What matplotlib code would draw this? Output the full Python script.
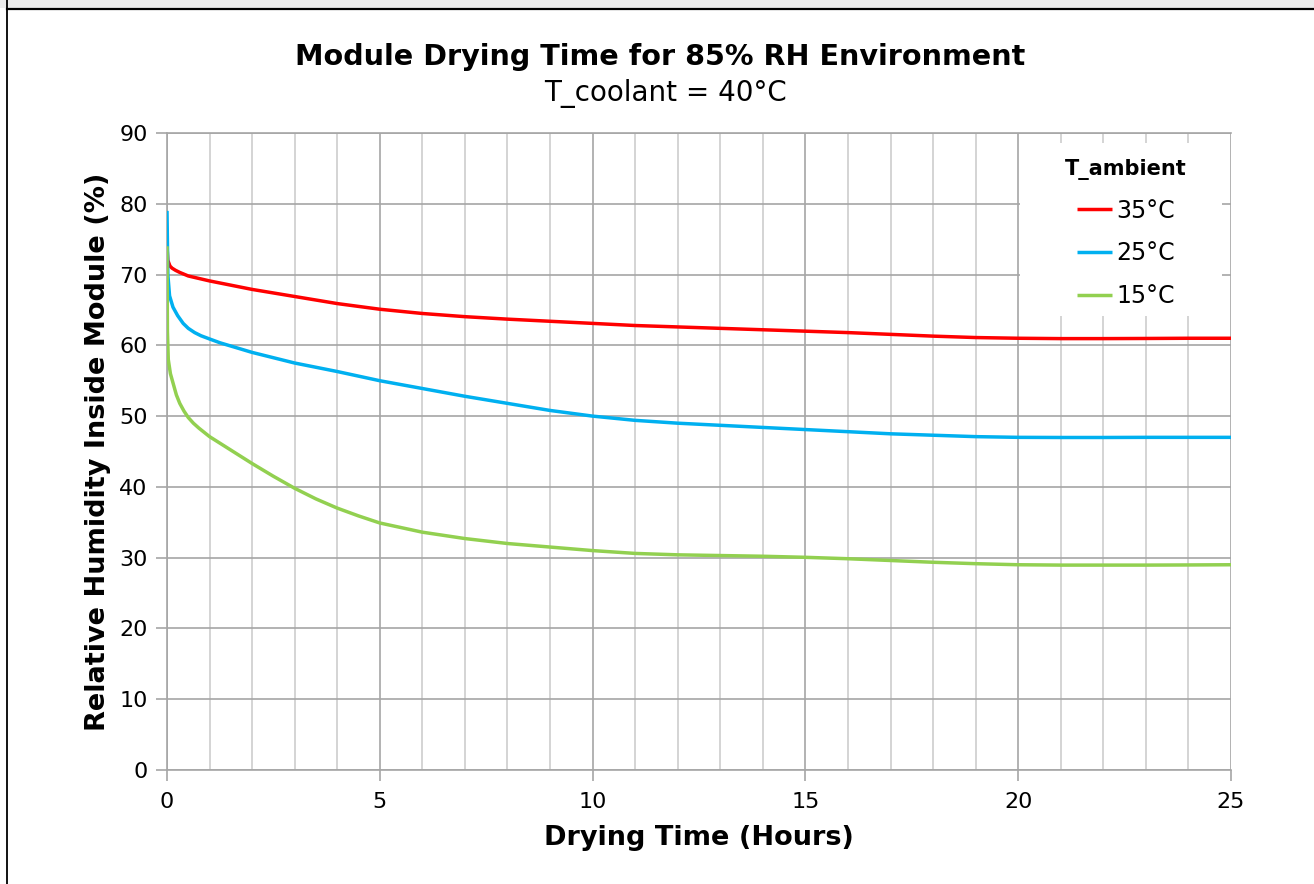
import matplotlib
matplotlib.use("Agg")
import matplotlib.pyplot as plt
from matplotlib.patches import Rectangle
from matplotlib.lines import Line2D
from matplotlib.ticker import MultipleLocator

# ---- data ----
hours_35 = [0, 0.02, 0.07, 0.12, 0.2, 0.3, 0.5, 1, 1.5, 2, 3, 4, 5, 6, 7, 8, 9, 10, 11, 12,
            13, 14, 15, 16, 17, 18, 19, 20, 21, 22, 23, 24, 25]
rh_35 = [74, 72, 71.2, 70.9, 70.6, 70.3, 69.8, 69.1, 68.5, 67.9, 66.9, 65.9, 65.1, 64.5,
         64.05, 63.7, 63.4, 63.1, 62.8, 62.6, 62.4, 62.2, 62.0, 61.8, 61.55, 61.3, 61.1,
         61.0, 60.95, 60.95, 60.97, 61.0, 61.0]

hours_25 = [0, 0.02, 0.06, 0.14, 0.25, 0.38, 0.5, 0.65, 0.8, 1, 1.25, 1.5, 2, 3, 4, 5, 6,
            7, 8, 9, 10, 11, 12, 13, 14, 15, 16, 17, 18, 19, 20, 21, 22, 23, 24, 25]
rh_25 = [79, 70, 67, 65.4, 64.2, 63.1, 62.4, 61.8, 61.35, 60.9, 60.35, 59.9, 59.0, 57.5,
         56.3, 55.0, 53.9, 52.8, 51.8, 50.8, 50.0, 49.4, 49.0, 48.7, 48.4, 48.1, 47.8,
         47.5, 47.3, 47.1, 47.0, 46.98, 46.98, 47.0, 47.0, 47.0]

hours_15 = [0, 0.01, 0.03, 0.08, 0.15, 0.22, 0.3, 0.4, 0.5, 0.62, 0.75, 1, 1.5, 2, 2.5, 3,
            3.5, 4, 4.5, 5, 6, 7, 8, 9, 10, 11, 12, 13, 14, 15, 16, 17, 18, 19, 20, 21,
            22, 23, 24, 25]
rh_15 = [74, 62, 58, 56, 54.5, 53.0, 51.8, 50.7, 49.8, 49.0, 48.3, 47.1, 45.2, 43.3, 41.5,
         39.8, 38.3, 37.0, 35.9, 34.9, 33.6, 32.7, 32.0, 31.5, 31.0, 30.6, 30.4, 30.3,
         30.2, 30.05, 29.85, 29.6, 29.35, 29.15, 29.0, 28.95, 28.95, 28.95, 28.97, 29.0]

series_labels = ["35°C", "25°C", "15°C"]
series_colors = ["#ff0000", "#00b0f0", "#92d050"]

title = "Module Drying Time for 85% RH Environment"
subtitle = "T_coolant = 40°C"
x_label = "Drying Time (Hours)"
y_label = "Relative Humidity Inside Module (%)"
legend_title = "T_ambient"

plt.rcParams['font.family'] = ['DejaVu Sans']

W, H = 1314, 884
fig = plt.figure(figsize=(W / 100, H / 100), dpi=100)

# outer frame decoration
fig.patches.append(Rectangle((0, 1 - 8 / H), 1, 8 / H, transform=fig.transFigure,
                             facecolor="#ececec", edgecolor="none", zorder=0))
fig.add_artist(Line2D([6.5 / W, 1], [1 - 8.5 / H, 1 - 8.5 / H], transform=fig.transFigure,
                      color="black", lw=1.6))
fig.add_artist(Line2D([6.5 / W, 6.5 / W], [0, 1], transform=fig.transFigure,
                      color="black", lw=1.3))

ax = fig.add_axes([167 / W, (H - 770) / H, (1231 - 167) / W, (770 - 133) / H])

for xs, ys, lab, col in zip([hours_35, hours_25, hours_15], [rh_35, rh_25, rh_15],
                            series_labels, series_colors):
    ax.plot(xs, ys, color=col, lw=2.5, label=lab, solid_capstyle="butt", zorder=3)

ax.set_xlim(0, 25)
ax.set_ylim(0, 90)
ax.xaxis.set_major_locator(MultipleLocator(5))
ax.xaxis.set_minor_locator(MultipleLocator(1))
ax.yaxis.set_major_locator(MultipleLocator(10))

ax.grid(which="major", axis="both", color="#a6a6a6", lw=1.2)
ax.grid(which="minor", axis="x", color="#cdcdcd", lw=1.2)
ax.set_axisbelow(True)
for s in ax.spines.values():
    s.set_color("#a6a6a6")
    s.set_linewidth(1.2)
ax.spines["right"].set_visible(False)

ax.tick_params(axis="both", which="major", length=8, width=1.2, color="#a6a6a6",
               labelsize=16, pad=6)
ax.tick_params(axis="x", which="major", pad=8)
ax.tick_params(axis="x", which="minor", length=0)

ax.set_xlabel(x_label, fontsize=19.5, fontweight="bold", labelpad=9)
ax.set_ylabel(y_label, fontsize=19.5, fontweight="bold", labelpad=6)

fig.text(660 / W, 1 - 57 / H, title, ha="center", va="center", fontsize=20.6,
         fontweight="bold")
fig.text(666 / W, 1 - 93 / H, subtitle, ha="center", va="center", fontsize=20)

# white legend background covering the grid
ax.add_patch(Rectangle((0.8017, 0.7127), 0.9915 - 0.8017, 0.9843 - 0.7127,
                       transform=ax.transAxes, facecolor="white", edgecolor="none",
                       zorder=1))

leg = ax.legend(title=legend_title, loc="upper center",
                bbox_to_anchor=(1126 / W, 1 - 159 / H), bbox_transform=fig.transFigure,
                fontsize=17, frameon=False, borderpad=0, borderaxespad=0,
                handlelength=1.5, handletextpad=0.17, labelspacing=0.79)
leg.get_title().set_fontweight("bold")
leg.get_title().set_fontsize(15)
leg.set_zorder(5)

fig.savefig("out.png", dpi=100)
